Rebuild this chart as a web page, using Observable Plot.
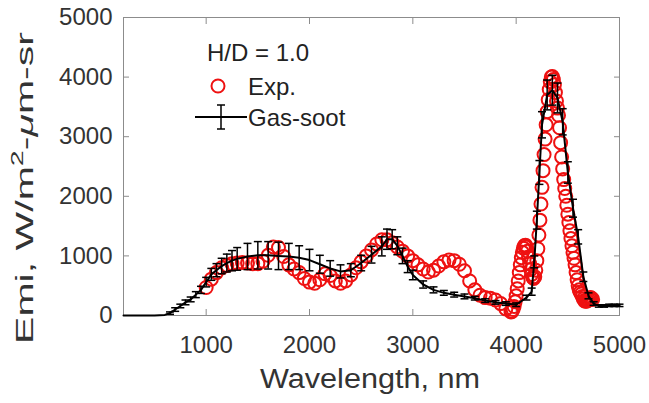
<!DOCTYPE html>
<html><head><meta charset="utf-8">
<script src="https://cdn.jsdelivr.net/npm/d3@7"></script>
<script src="https://cdn.jsdelivr.net/npm/@observablehq/plot@0.6"></script>
<style>
body{margin:0;background:#fff;}
#chart{position:relative;width:649px;height:403px;}
</style>
</head><body><div id="chart"></div>
<script>
// Experimental data (red circles)
const expWavelength = [
  1000,1050,1100,1150,1200,1250,1300,1350,1400,1450,1500,1550,1600,1650,1700,1750,1800,1850,1900,1950,
  2000,2050,2100,2150,2200,2250,2300,2350,2400,2450,2500,2550,2600,2650,2700,2750,2800,2850,2900,2950,
  3000,3050,3100,3150,3200,3250,3300,3350,3400,3450,3500,3550,3600,3650,3700,3750,3800,3850,3900,
  3950,3960,3970,3980,3990,4000,4010,4020,4030,4040,4050,4060,4070,4080,4090,4100,4110,4120,4130,4140,
  4150,4160,4170,4180,4190,4200,4210,4220,4230,4240,4250,4260,4270,4280,4290,4300,4310,4320,4330,4340,
  4350,4360,4370,4380,4390,4400,4410,4420,4430,4440,4450,4460,4470,4480,4490,4500,4510,4520,4530,4540,
  4550,4560,4570,4580,4590,4600,4610,4620,4630,4640,4650,4660,4670,4680,4690,4700,4710,4720,4730,4740
];
const expEmission = [
  470,610,720,800,840,870,880,890,880,870,870,910,1010,1150,1140,990,850,780,720,620,
  560,540,600,700,670,580,540,580,680,800,900,1000,1100,1200,1270,1270,1220,1150,1080,1000,
  920,850,780,730,760,830,900,930,920,860,750,580,430,340,300,290,260,200,110,
  60,70,100,150,230,330,450,580,720,850,970,1060,1130,1170,1180,1150,1080,980,870,770,
  690,640,620,650,760,920,1120,1350,1600,1870,2150,2430,2700,2960,3200,3420,3620,3790,3920,4000,
  4010,3960,3870,3740,3600,3480,3360,3150,2900,2660,2460,2280,2130,2000,1850,1700,1560,1420,1290,1170,
  1060,960,850,720,600,500,430,390,360,320,280,250,240,240,250,270,290,300,290,270
];

// Gas-soot model (black line with error bars)
const gasWavelength = [
  200,300,400,500,600,650,700,750,800,850,900,950,1000,1050,1100,1150,1200,1250,1300,1400,
  1500,1600,1700,1800,1900,2000,2100,2200,2300,2400,2500,2600,2700,2750,2800,2850,2900,2950,3000,3100,
  3200,3300,3400,3500,3600,3700,3800,3900,4000,4100,4150,4175,4200,4225,4250,4300,4350,4400,4450,4500,
  4550,4600,4650,4700,4750,4800,4850,4900,4950,5000
];
const gasEmission = [
  0,0,0,0,10,40,100,160,220,270,350,430,560,690,760,830,880,920,950,990,
  1010,1010,1000,990,970,930,860,790,740,760,880,1020,1160,1280,1280,1170,1000,820,680,520,
  430,380,350,320,290,250,220,200,180,300,400,900,1600,2400,3200,3700,3780,3650,3250,2400,
  1800,1320,650,330,200,160,160,170,170,170
];
const gasError = [
  0,0,0,0,0,20,30,30,40,40,50,60,80,100,110,130,150,170,190,220,
  230,230,230,220,200,180,150,130,110,110,130,140,160,170,160,150,130,100,80,60,
  50,40,40,40,30,30,30,30,30,40,60,100,150,200,220,250,250,250,220,180,
  150,120,80,50,30,20,20,20,20,20
];

const xTicks = [1000, 2000, 3000, 4000, 5000];
const yTicks = [0, 1000, 2000, 3000, 4000, 5000];

const expData = expWavelength.map((x, i) => ({x, y: expEmission[i]}));
const gasData = gasWavelength.map((x, i) => ({x, y: gasEmission[i], e: gasError[i]}));
const barData = gasData.filter(d => d.e > 0);

const capSymbol = {draw(ctx, size) { const w = Math.sqrt(size / Math.PI); ctx.moveTo(-w, 0); ctx.lineTo(w, 0); }};
const empty = () => "";
const plain = d => String(d);
const axisColor = "#8c8c8c";
const textColor = "#333";

const plot = Plot.plot({
  width: 649, height: 403,
  marginLeft: 123, marginRight: 30, marginTop: 17, marginBottom: 88,
  style: {fontFamily: "'Liberation Sans', Arial, sans-serif", background: "#fff", overflow: "visible"},
  x: {domain: [200, 5000]},
  y: {domain: [0, 5000]},
  marks: [
    Plot.frame({stroke: axisColor}),
    Plot.axisX(xTicks, {tickSize: 0, tickPadding: 20, fontSize: 24, fill: textColor, tickFormat: plain, label: null}),
    Plot.axisX(xTicks, {tickSize: -6, tickFormat: empty, stroke: axisColor, label: null}),
    Plot.axisX(xTicks, {anchor: "top", tickSize: -6, tickFormat: empty, stroke: axisColor, label: null}),
    Plot.axisY(yTicks, {tickSize: 0, tickPadding: 11, fontSize: 24, fill: textColor, tickFormat: plain, label: null}),
    Plot.axisY(yTicks, {tickSize: -6, tickFormat: empty, stroke: axisColor, label: null}),
    Plot.axisY(yTicks, {anchor: "right", tickSize: -6, tickFormat: empty, stroke: axisColor, label: null}),
    Plot.dot(expData, {x: "x", y: "y", r: 6.5, stroke: "#ee1111", strokeWidth: 2, fill: "none"}),
    Plot.line(gasData, {x: "x", y: "y", stroke: "#000", strokeWidth: 2}),
    Plot.ruleX(barData, {x: "x", y1: d => d.y - d.e, y2: d => d.y + d.e, stroke: "#000", strokeWidth: 1.5}),
    Plot.dot(barData, {x: "x", y: d => d.y - d.e, symbol: capSymbol, r: 4, stroke: "#000", strokeWidth: 1.5}),
    Plot.dot(barData, {x: "x", y: d => d.y + d.e, symbol: capSymbol, r: 4, stroke: "#000", strokeWidth: 1.5})
  ]
});
document.getElementById("chart").appendChild(plot);

const svg = d3.select(plot);
const font = "'Liberation Sans', Arial, sans-serif";

// Axis titles
svg.append("text")
  .attr("x", 370).attr("y", 388)
  .attr("text-anchor", "middle")
  .attr("font-family", font).attr("font-size", 27).attr("fill", textColor)
  .attr("textLength", 220).attr("lengthAdjust", "spacingAndGlyphs")
  .text("Wavelength, nm");

const yt = svg.append("text")
  .attr("transform", "translate(33,188) rotate(-90)")
  .attr("text-anchor", "middle")
  .attr("font-family", font).attr("font-size", 23).attr("fill", textColor)
  .attr("textLength", 312).attr("lengthAdjust", "spacingAndGlyphs");
yt.append("tspan").text("Emi, W/m");
yt.append("tspan").attr("dy", -10).attr("font-size", 16).text("2");
yt.append("tspan").attr("dy", 10).text("-");
yt.append("tspan").attr("font-style", "italic").text("\u03bc");
yt.append("tspan").text("m-sr");

// Legend
const lg = svg.append("g").attr("font-family", font).attr("font-size", 24).attr("fill", "#222").attr("text-anchor", "start");
lg.append("text").attr("x", 207).attr("y", 61).text("H/D = 1.0");
lg.append("circle").attr("cx", 218).attr("cy", 86).attr("r", 6.5).attr("fill", "none").attr("stroke", "#ee1111").attr("stroke-width", 2);
lg.append("text").attr("x", 248).attr("y", 95).text("Exp.");
lg.append("line").attr("x1", 195).attr("x2", 247).attr("y1", 117).attr("y2", 117).attr("stroke", "#000").attr("stroke-width", 2);
lg.append("line").attr("x1", 221).attr("x2", 221).attr("y1", 105).attr("y2", 129).attr("stroke", "#000").attr("stroke-width", 1.5);
lg.append("line").attr("x1", 217).attr("x2", 225).attr("y1", 105).attr("y2", 105).attr("stroke", "#000").attr("stroke-width", 1.5);
lg.append("line").attr("x1", 217).attr("x2", 225).attr("y1", 129).attr("y2", 129).attr("stroke", "#000").attr("stroke-width", 1.5);
lg.append("text").attr("x", 248).attr("y", 126).text("Gas-soot");
</script>
</body></html>
